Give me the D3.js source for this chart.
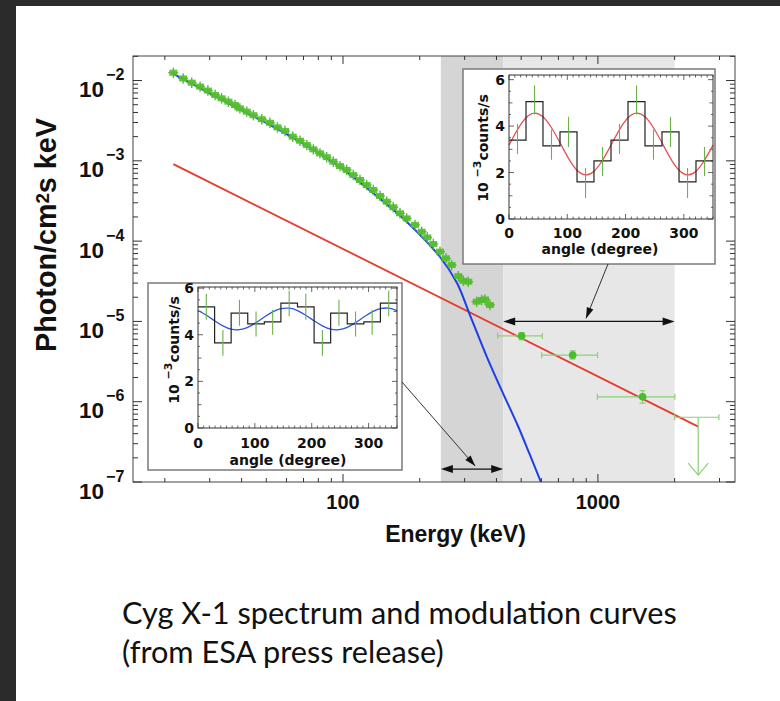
<!DOCTYPE html>
<html><head><meta charset="utf-8">
<script src="https://cdn.jsdelivr.net/npm/d3@7"></script>
<style>body{margin:0;background:#2b2b2b;} svg{display:block}</style>
</head><body><svg id="c" width="780" height="701"></svg>
<script>
// ---------------- DATA ----------------
const xDomain = [15, 3450];          // keV
const yDomain = [1e-7, 0.0202];      // photon/cm2 s keV
const xMajorTicks = [100, 1000];
const xMajorLabels = ["100", "1000"];
const xMinorTicks = [20,30,40,50,60,70,80,90,200,300,400,500,600,700,800,900,2000,3000];
const yExponents = [-2,-3,-4,-5,-6,-7];

// spectrum (low-energy, dense points)
const specE = [21.6,23.6,25.5,27.5,29.5,31.5,33.4,35.5,37.7,39.4,41.9,44.5,48.0,51.7,55.3,59.2,63.5,67.8,72.1,76.5,81.2,86.3,91.6,97.3,103.4,109.7,116.6,123.9,131.5,139.7,148.4,157.5,167.3,177.7,191.6,203.5,214.1,226.0,240.2,253.4,266.9,283.3,296.3,310,334.5,349.9,360.5,377.2];
const specF = [1.25e-2,1.06e-2,9.4e-3,8.4e-3,7.5e-3,6.6e-3,6.0e-3,5.45e-3,4.95e-3,4.5e-3,4.1e-3,3.7e-3,3.3e-3,2.98e-3,2.61e-3,2.35e-3,2.0e-3,1.78e-3,1.57e-3,1.39e-3,1.24e-3,1.11e-3,9.75e-4,8.6e-4,7.7e-4,6.65e-4,5.77e-4,5.0e-4,4.33e-4,3.65e-4,3.1e-4,2.64e-4,2.22e-4,1.92e-4,1.59e-4,1.31e-4,1.11e-4,9.2e-5,7.4e-5,6.1e-5,5.04e-5,3.67e-5,3.21e-5,3.12e-5,1.76e-5,1.85e-5,1.88e-5,1.60e-5];

// high-energy points
const hiE   = [502, 796, 1497];
const hiElo = [404, 602, 995];
const hiEhi = [605, 997, 2004];
const hiF   = [6.6e-6, 3.8e-6, 1.15e-6];
const hiFlo = [5.9e-6, 3.4e-6, 0.96e-6];
const hiFhi = [7.2e-6, 4.3e-6, 1.37e-6];

// upper limit
const ulE = [2474], ulElo = [2000], ulEhi = [2983], ulF = [6.4e-7], ulFto = [1.22e-7];

// models
const redE = [21.6, 2474];
const redF = [9.1e-4, 4.9e-7];
const blueE = [21.5,29.3,39.5,53.2,72.3,97.3,131.1,178.2,240.2,280.0,314.8,367.0,424.0,485.8,541.3,597.6];
const blueF = [1.22e-2,7.19e-3,4.35e-3,2.67e-3,1.53e-3,8.37e-4,3.97e-4,1.73e-4,6.34e-5,3.01e-5,1.20e-5,3.6e-6,1.28e-6,4.98e-7,2.17e-7,1.0e-7];

// energy bands
const bandDark = [242, 425];
const bandLight = [425, 2000];
const bandArrowF = [1.45e-7, 1.0e-5];

// modulation curves (angle axis 0-350 deg, 12 bins)
const angleEdges = [0,29.2,58.3,87.5,116.7,145.8,175,204.2,233.3,262.5,291.7,320.8,350];
const angleCenters = [14.6,43.8,72.9,102.1,131.3,160.4,189.6,218.8,247.9,277.1,306.3,335.4];
const hiCounts = [3.4,5.05,3.15,3.75,1.6,2.5,3.4,5.05,3.15,3.75,1.6,2.5];
const hiErrLo  = [2.8,4.5,2.55,3.1,0.9,1.85,2.8,4.5,2.55,3.1,0.9,1.85];
const hiErrHi  = [4.1,5.75,3.85,4.4,2.2,3.1,4.1,5.75,3.85,4.4,2.2,3.1];
const loCounts = [5.2,3.65,4.93,4.47,4.55,5.36,5.2,3.65,4.93,4.47,4.55,5.36];
const loErrLo  = [4.64,3.1,4.39,3.93,4.0,4.79,4.64,3.1,4.39,3.93,4.0,4.79];
const loErrHi  = [5.76,4.21,5.5,5.0,5.07,5.9,5.76,4.21,5.5,5.0,5.07,5.9];
const fitAngles = [0,14.6,29.2,43.8,58.3,72.9,87.5,102.1,116.7,131.3,145.8,160.4,175,189.6,204.2,218.8,233.3,247.9,262.5,277.1,291.7,306.3,320.8,335.4,350];
const hiFit = [3.18,3.85,4.36,4.56,4.40,3.93,3.28,2.61,2.10,1.90,2.06,2.53,3.18,3.85,4.36,4.56,4.40,3.93,3.28,2.61,2.10,1.90,2.06,2.53,3.18];
const loFit = [5.04,4.84,4.60,4.38,4.24,4.22,4.32,4.52,4.76,4.98,5.12,5.14,5.04,4.84,4.60,4.38,4.24,4.22,4.32,4.52,4.76,4.98,5.12,5.14,5.04];
const insetXTicks = [0,100,200,300];
const insetYTicks = [0,2,4,6];

// ---------------- DRAW ----------------
const W=780,H=701;
const svg=d3.select('#c');
const FONT = "'Liberation Sans', Arial, sans-serif";
const IFONT = "'DejaVu Sans', sans-serif";
svg.append('rect').attr('width',W).attr('height',H).attr('fill','#2b2b2b');
svg.append('rect').attr('x',16).attr('y',6).attr('width',W-16).attr('height',H-6).attr('fill','#fff');

const M={l:133,t:56,r:735,b:482};
const x=d3.scaleLog().domain(xDomain).range([M.l,M.r]);
const y=d3.scaleLog().domain(yDomain).range([M.b,M.t]);

svg.append('clipPath').attr('id','plotclip').append('rect')
  .attr('x',M.l).attr('y',M.t).attr('width',M.r-M.l).attr('height',M.b-M.t);
const g=svg.append('g').attr('clip-path','url(#plotclip)');

// bands
g.append('rect').attr('x',x(bandDark[0])).attr('width',x(bandDark[1])-x(bandDark[0]))
  .attr('y',M.t).attr('height',M.b-M.t).attr('fill','#d5d5d5');
g.append('rect').attr('x',x(bandLight[0])).attr('width',x(bandLight[1])-x(bandLight[0]))
  .attr('y',M.t).attr('height',M.b-M.t).attr('fill','#e7e7e7');

// models
const line=d3.line().x(d=>x(d[0])).y(d=>y(d[1]));
g.append('path').attr('d',line(d3.zip(redE,redF))).attr('fill','none')
  .attr('stroke','#e53a2f').attr('stroke-width',1.8);
g.append('path').attr('d',d3.line().x(d=>x(d[0])).y(d=>y(d[1])).curve(d3.curveCatmullRom)(d3.zip(blueE,blueF))).attr('fill','none')
  .attr('stroke','#1d3fe6').attr('stroke-width',2);

// spectrum points
const GREEN='#52be2e', GERR='#5fb343', LGREEN='#8ccf78';
const sp=g.append('g');
specE.forEach((e,i)=>{
  const f=specF[i], cx=x(e), cy=y(f);
  sp.append('line').attr('x1',x(e*0.955)).attr('x2',x(e*1.045)).attr('y1',cy).attr('y2',cy)
    .attr('stroke',GERR).attr('stroke-width',1.4);
  sp.append('line').attr('x1',cx).attr('x2',cx).attr('y1',y(f*0.86)).attr('y2',y(f*1.16))
    .attr('stroke',GERR).attr('stroke-width',1.4);
  sp.append('rect').attr('x',cx-4).attr('y',cy-3).attr('width',8).attr('height',6)
    .attr('fill',GREEN).attr('opacity',0.92);
});
// high energy points
hiE.forEach((e,i)=>{
  const cy=y(hiF[i]), cx=x(e);
  const hg=g.append('g').attr('stroke',LGREEN).attr('stroke-width',1.2);
  hg.append('line').attr('x1',x(hiElo[i])).attr('x2',x(hiEhi[i])).attr('y1',cy).attr('y2',cy);
  hg.append('line').attr('x1',x(hiElo[i])).attr('x2',x(hiElo[i])).attr('y1',cy-3).attr('y2',cy+3);
  hg.append('line').attr('x1',x(hiEhi[i])).attr('x2',x(hiEhi[i])).attr('y1',cy-3).attr('y2',cy+3);
  hg.append('line').attr('x1',cx).attr('x2',cx).attr('y1',y(hiFlo[i])).attr('y2',y(hiFhi[i]));
  hg.append('line').attr('x1',cx-3).attr('x2',cx+3).attr('y1',y(hiFlo[i])).attr('y2',y(hiFlo[i]));
  hg.append('line').attr('x1',cx-3).attr('x2',cx+3).attr('y1',y(hiFhi[i])).attr('y2',y(hiFhi[i]));
  g.append('circle').attr('cx',cx).attr('cy',cy).attr('r',3.8).attr('fill','#45c02c');
});
// upper limit
ulE.forEach((e,i)=>{
  const cy=y(ulF[i]), cx=x(e), ty=y(ulFto[i]);
  const ug=g.append('g').attr('stroke',LGREEN).attr('stroke-width',1.2).attr('fill','none');
  ug.append('line').attr('x1',x(ulElo[i])).attr('x2',x(ulEhi[i])).attr('y1',cy).attr('y2',cy);
  ug.append('line').attr('x1',x(ulElo[i])).attr('x2',x(ulElo[i])).attr('y1',cy-3).attr('y2',cy+3);
  ug.append('line').attr('x1',x(ulEhi[i])).attr('x2',x(ulEhi[i])).attr('y1',cy-3).attr('y2',cy+3);
  ug.append('line').attr('x1',cx).attr('x2',cx).attr('y1',cy).attr('y2',ty);
  ug.append('path').attr('d',`M${cx-10},${ty-12}L${cx},${ty}L${cx+10},${ty-12}`);
});

// double arrows
function dblArrow(x1,x2,yy){
  const a=svg.append('g');
  a.append('line').attr('x1',x1+8).attr('x2',x2-8).attr('y1',yy).attr('y2',yy).attr('stroke','#111').attr('stroke-width',1.3);
  a.append('path').attr('d',`M${x1},${yy}L${x1+12},${yy-4}L${x1+12},${yy+4}Z`).attr('fill','#111');
  a.append('path').attr('d',`M${x2},${yy}L${x2-12},${yy-4}L${x2-12},${yy+4}Z`).attr('fill','#111');
}
dblArrow(x(bandDark[0]),x(bandDark[1]),y(bandArrowF[0]));
dblArrow(x(bandLight[0]),x(bandLight[1]),y(bandArrowF[1]));

// main frame + ticks
const ax=svg.append('g').attr('stroke','#333').attr('stroke-width',1).attr('fill','none');
ax.append('rect').attr('x',M.l).attr('y',M.t).attr('width',M.r-M.l).attr('height',M.b-M.t).attr('stroke','#444');
function xTicks(vals,len){
  vals.forEach(v=>{
    ax.append('line').attr('x1',x(v)).attr('x2',x(v)).attr('y1',M.b).attr('y2',M.b-len);
    ax.append('line').attr('x1',x(v)).attr('x2',x(v)).attr('y1',M.t).attr('y2',M.t+len);
  });
}
xTicks(xMajorTicks,8); xTicks(xMinorTicks,4);
const yMaj=yExponents.map(e=>Math.pow(10,e));
const yMin=[];
yExponents.forEach(e=>{ for(let k=2;k<=9;k++){ const v=k*Math.pow(10,e); if(v<=yDomain[1]) yMin.push(v);} });
function yTicks(vals,len){
  vals.forEach(v=>{
    ax.append('line').attr('x1',M.l).attr('x2',M.l+len).attr('y1',y(v)).attr('y2',y(v));
    ax.append('line').attr('x1',M.r).attr('x2',M.r-len).attr('y1',y(v)).attr('y2',y(v));
  });
}
yTicks(yMaj,9); yTicks(yMin,5);

// main labels
xMajorTicks.forEach((v,i)=>{
  svg.append('text').attr('x',x(v)).attr('y',509).attr('text-anchor','middle')
    .attr('font-family',FONT).attr('font-weight','bold').attr('font-size',20).attr('fill','#111')
    .text(xMajorLabels[i]);
});
yExponents.forEach(e=>{
  const t=svg.append('text').attr('x',79).attr('y',y(Math.pow(10,e))+16.5)
    .attr('font-family',FONT).attr('font-weight','bold').attr('font-size',22.5).attr('fill','#111');
  t.append('tspan').text('10');
  t.append('tspan').attr('dy',-17).attr('dx',2).attr('font-size',16).text('\u2212'+(-e));
});
svg.append('text').attr('x',455.5).attr('y',541.5).attr('text-anchor','middle')
  .attr('font-family',FONT).attr('font-weight','bold').attr('font-size',23).attr('fill','#111')
  .text('Energy (keV)');
const yt=svg.append('text').attr('transform','translate(56,235) rotate(-90)').attr('text-anchor','middle')
  .attr('font-family',FONT).attr('font-weight','bold').attr('font-size',23).attr('fill','#111');
yt.append('tspan').text('Photon/cm');
yt.append('tspan').attr('dy','-0.4em').attr('font-size','0.65em').text('2');
yt.append('tspan').attr('dy','0.26em').text('s keV');
{ const w=yt.node().getComputedTextLength(); yt.attr('font-size',23*234/w); }

// ---------------- INSETS ----------------
function inset(cfg){
  const ig=svg.append('g');
  ig.append('rect').attr('x',cfg.box[0]).attr('y',cfg.box[1]).attr('width',cfg.box[2]).attr('height',cfg.box[3])
    .attr('fill','#fff').attr('stroke','#7a7a7a').attr('stroke-width',1.5);
  const [fx,fy,fw,fh]=cfg.frame;
  const sx=d3.scaleLinear().domain([0,350]).range([fx,fx+fw]);
  const sy=d3.scaleLinear().domain([0,cfg.ymax]).range([fy+fh,fy]);
  // ticks
  const tk=ig.append('g').attr('stroke','#444').attr('stroke-width',0.8);
  d3.range(0,351,10).forEach(v=>{
    const L=(v%100===0)?5:2.5;
    tk.append('line').attr('x1',sx(v)).attr('x2',sx(v)).attr('y1',fy+fh).attr('y2',fy+fh-L);
    tk.append('line').attr('x1',sx(v)).attr('x2',sx(v)).attr('y1',fy).attr('y2',fy+L);
  });
  d3.range(0,cfg.ymax,0.5).forEach(v=>{
    const L=(v%2===0)?5:(v%1===0?3.5:2);
    tk.append('line').attr('x1',fx).attr('x2',fx+L).attr('y1',sy(v)).attr('y2',sy(v));
    tk.append('line').attr('x1',fx+fw).attr('x2',fx+fw-L).attr('y1',sy(v)).attr('y2',sy(v));
  });
  // fit curve
  ig.append('path').attr('d',d3.line().x(d=>sx(d[0])).y(d=>sy(d[1])).curve(d3.curveNatural)(d3.zip(fitAngles,cfg.fit)))
    .attr('fill','none').attr('stroke',cfg.fitColor).attr('stroke-width',1.3);
  // histogram
  const pts=angleEdges.map((a,i)=>[a,cfg.counts[Math.min(i,cfg.counts.length-1)]]);
  ig.append('path').attr('d',d3.line().x(d=>sx(d[0])).y(d=>sy(d[1])).curve(d3.curveStepAfter)(pts))
    .attr('fill','none').attr('stroke','#222').attr('stroke-width',1.2);
  // error bars
  angleCenters.forEach((a,i)=>{
    ig.append('line').attr('x1',sx(a)).attr('x2',sx(a)).attr('y1',sy(cfg.lo[i])).attr('y2',sy(cfg.hi[i]))
      .attr('stroke','#6db04e').attr('stroke-width',1.1);
  });
  ig.append('rect').attr('x',fx).attr('y',fy).attr('width',fw).attr('height',fh)
    .attr('fill','none').attr('stroke','#333').attr('stroke-width',1);
  // labels
  insetXTicks.forEach(v=>{
    ig.append('text').attr('x',sx(v)).attr('y',cfg.xlabY).attr('text-anchor','middle')
      .attr('font-family',IFONT).attr('font-weight','bold').attr('font-size',14).attr('fill','#111').text(v);
  });
  insetYTicks.forEach(v=>{
    ig.append('text').attr('x',fx-4).attr('y',sy(v)+5).attr('text-anchor','end')
      .attr('font-family',IFONT).attr('font-weight','bold').attr('font-size',14).attr('fill','#111').text(v);
  });
  ig.append('text').attr('x',cfg.xtitle[0]).attr('y',cfg.xtitle[1]).attr('text-anchor','middle')
    .attr('font-family',IFONT).attr('font-weight','bold').attr('font-size',14).attr('fill','#111').text('angle (degree)');
  const t=ig.append('text').attr('transform',`translate(${cfg.ytitle[0]},${cfg.ytitle[1]}) rotate(-90)`)
    .attr('text-anchor','middle').attr('font-family',IFONT).attr('font-weight','bold').attr('font-size',14).attr('fill','#111');
  t.append('tspan').text('10 ');
  t.append('tspan').attr('dy',-7).attr('font-size',11).text('\u22123');
  t.append('tspan').attr('dy',7).text('counts/s');
}
inset({box:[463,69,252,195],frame:[509,75,204,144],ymax:6.2,counts:hiCounts,lo:hiErrLo,hi:hiErrHi,
  fit:hiFit,fitColor:'#e25555',xlabY:238,xtitle:[600,254],ytitle:[488,148]});
inset({box:[148,283,254,187],frame:[198,287,199,141],ymax:6.05,counts:loCounts,lo:loErrLo,hi:loErrHi,
  fit:loFit,fitColor:'#2f55e3',xlabY:448,xtitle:[288,465],ytitle:[179,350]});

// pointer lines
function pointer(x1,y1,x2,y2){
  svg.append('line').attr('x1',x1).attr('y1',y1).attr('x2',x2).attr('y2',y2).attr('stroke','#333').attr('stroke-width',1);
  const ang=Math.atan2(y2-y1,x2-x1), L=11, w=3.5;
  const bx=x2-L*Math.cos(ang), by=y2-L*Math.sin(ang);
  svg.append('path').attr('d',`M${x2},${y2}L${bx-w*Math.sin(ang)},${by+w*Math.cos(ang)}L${bx+w*Math.sin(ang)},${by-w*Math.cos(ang)}Z`).attr('fill','#111');
}
pointer(608,264,x(898),y(bandArrowF[1])-3);
pointer(402,382,x(330),y(bandArrowF[0])-3);

// caption
const cap=svg.append('g').attr('font-family',"Lato, 'Open Sans', sans-serif").attr('fill','#111');
const c1=cap.append('text').attr('x',122).attr('y',624).attr('font-size',28).text('Cyg X-1 spectrum and modulation curves');
const c2=cap.append('text').attr('x',122).attr('y',663).attr('font-size',28).text('(from ESA press release)');
const w1=c1.node().getComputedTextLength();
const fs=28*555/w1;
c1.attr('font-size',fs); c2.attr('font-size',fs);
</script></body></html>
